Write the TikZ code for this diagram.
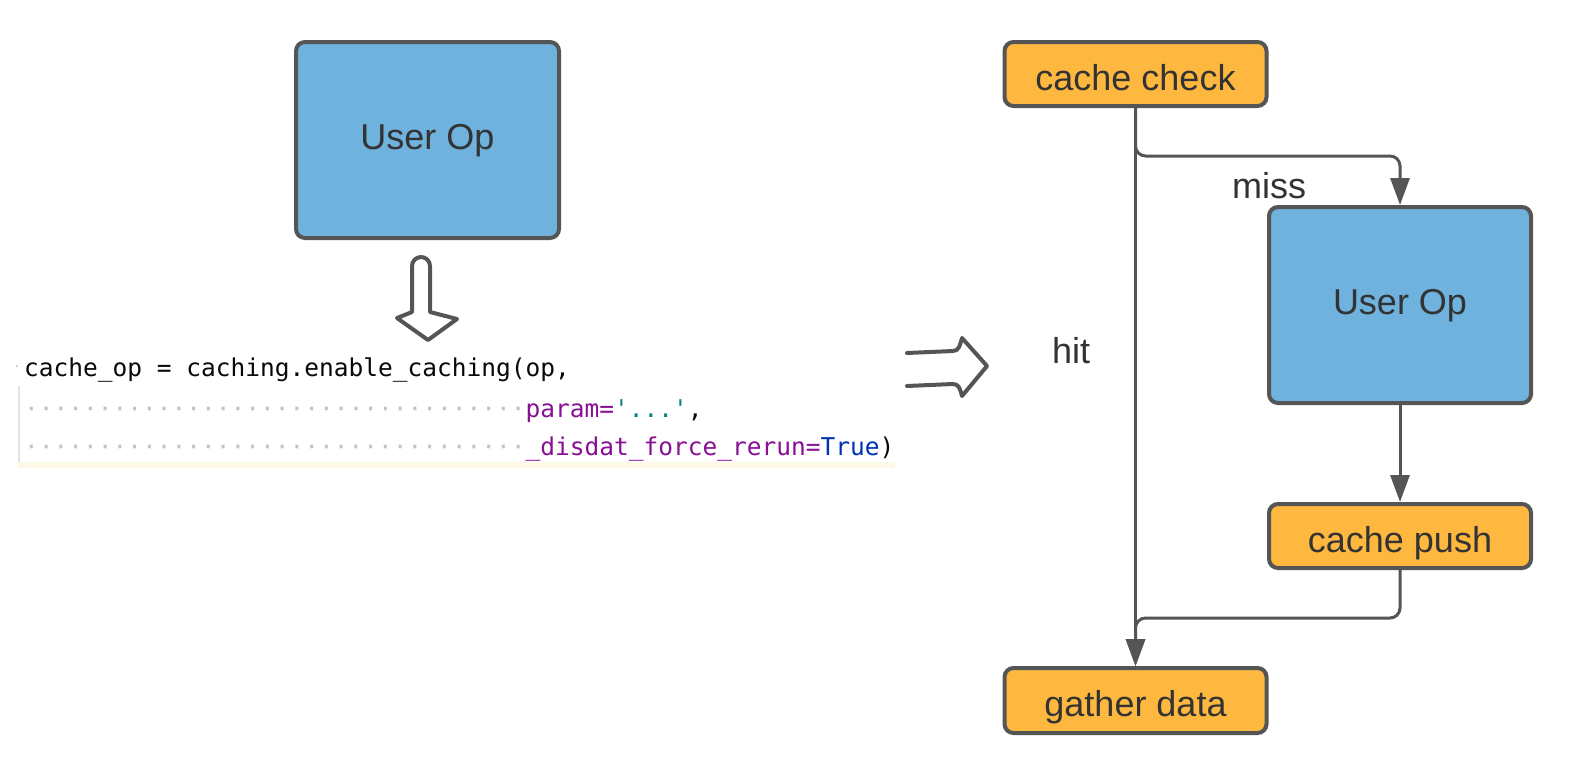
\documentclass[tikz,border=0pt]{standalone}
\usepackage{fontspec}
\setmainfont{Liberation Sans}
\newfontfamily\codefont{DejaVu Sans Mono}[Ligatures=TeXOff]
\usetikzlibrary{arrows.meta}
\definecolor{bluebox}{HTML}{6EB2DD}
\definecolor{orangebox}{HTML}{FFB83F}
\definecolor{edge}{HTML}{555555}
\definecolor{ink}{HTML}{333333}
\definecolor{codeink}{HTML}{080808}
\definecolor{kwpurple}{HTML}{871094}
\definecolor{strteal}{HTML}{0A8080}
\definecolor{trueblue}{HTML}{0033B3}
\definecolor{wsdot}{HTML}{C4C4C4}
\definecolor{gutter}{HTML}{E2E2E2}
\definecolor{curline}{HTML}{FCFAE6}
\begin{document}
\begin{tikzpicture}[x=1pt,y=-1pt,
  box/.style={draw=edge, line width=4pt, rounded corners=9pt, text=ink,
    font=\fontsize{36}{40}\selectfont, inner sep=0pt, align=center},
  opbox/.style={box, fill=bluebox, minimum width=263pt, minimum height=196pt,
    text height=26pt, text depth=8pt},
  cachebox/.style={box, fill=orangebox, minimum width=262pt, minimum height=64pt,
    text height=32pt, text depth=0pt},
  conn/.style={draw=edge, line width=3pt},
  arr/.style={conn, -{Triangle[length=27pt,width=19pt]}},
  lbl/.style={text=ink, font=\fontsize{36}{40}\selectfont, inner sep=0pt},
  hollow/.style={draw=edge, line width=4pt, line join=round, line cap=round},
  code/.style={font=\codefont\fontsize{24.5}{28}\selectfont, text=codeink, inner sep=0pt}
]
\useasboundingbox (0,0) rectangle (1586,758);
\fill[white] (0,0) rectangle (1586,758);

% left side
\node[opbox] (uo1) at (427.5,140) {User Op};

\draw[hollow] (412,312) -- (412,266) arc[start angle=180, end angle=360, radius=9]
  -- (430,312) -- (457,319) -- (428,340) -- (397,318) -- cycle;

% code snippet
\fill[curline] (18,462) rectangle (895,468);
\draw[gutter, line width=1.2pt] (19,386) -- (19,462);
\fill[wsdot] (17,366) circle (1.2);
\node[code, anchor=base west] (l1) at (24,376) {cache\_op = caching.enable\_caching(op,};
\node[code, anchor=base west] (l2) at (24,417) {{\color{wsdot}··································}{\color{kwpurple}param=}{\color{strteal}'...'},};
\node[code, anchor=base west] (l3) at (24,455) {{\color{wsdot}··································}{\color{kwpurple}\_disdat\_force\_rerun=}{\color{trueblue}True})};

\draw[hollow] (907,353) -- (953,351) .. controls (959,351) and (960,345) .. (962,338)
  -- (987,366) -- (962,396) .. controls (960,389) and (959,384) .. (953,384) -- (907,386);

% right side flow
\node[cachebox] (cc) at (1135.5,74) {cache check};
\node[opbox, minimum width=262pt] (uo2) at (1400,305) {User Op};
\node[cachebox] (cp) at (1400,536) {cache push};
\node[cachebox, minimum height=65pt] (gd) at (1135.5,700.5) {gather data};

\draw[arr] (cc.south) -- (gd.north);
\draw[arr, rounded corners=10pt] (cc.south) |- (uo2.north |- 0,156) -- (uo2.north);
\draw[arr] (uo2.south) -- (cp.north);
\draw[arr, rounded corners=10pt] (cp.south) |- (gd.north |- 0,618) -- (gd.north);

\node[lbl, anchor=base] (miss) at (1269,198) {miss};
\node[lbl, anchor=base] (hit) at (1071,363) {hit};
\end{tikzpicture}
\end{document}
